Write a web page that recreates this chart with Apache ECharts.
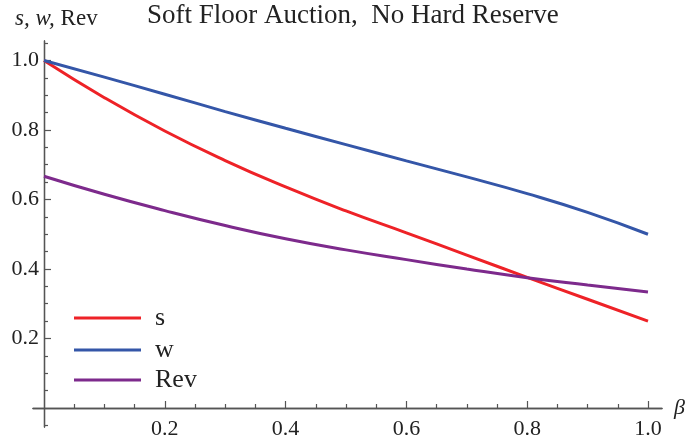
<!DOCTYPE html>
<html>
<head>
<meta charset="utf-8">
<script src="https://cdn.jsdelivr.net/npm/echarts@6/dist/echarts.min.js"></script>
<style>
  html, body { margin: 0; padding: 0; background: #fff; }
  #chart { width: 688px; height: 442px; }
</style>
</head>
<body>
<div id="chart"></div>
<script>
// beta values and the three curves
const beta = [0, 0.1, 0.2, 0.3, 0.4, 0.5, 0.6, 0.7, 0.8, 0.9, 1.0]
const sVals = [1.0, 0.893, 0.797, 0.712, 0.636, 0.567, 0.504, 0.44, 0.376, 0.313, 0.25]
const wVals = [1.0, 0.952, 0.903, 0.853, 0.805, 0.758, 0.711, 0.665, 0.617, 0.563, 0.50]
const revVals = [0.667, 0.615, 0.568, 0.525, 0.487, 0.455, 0.427, 0.400, 0.375, 0.354, 0.334]

const xMajor = [0.2, 0.4, 0.6, 0.8, 1.0]
const xMinor = [0.05, 0.1, 0.15, 0.25, 0.3, 0.35, 0.45, 0.5, 0.55, 0.65, 0.7, 0.75, 0.85, 0.9, 0.95]
const yMajor = [0.2, 0.4, 0.6, 0.8, 1.0]
const yMinor = [-0.05, 0.05, 0.1, 0.15, 0.25, 0.3, 0.35, 0.45, 0.5, 0.55, 0.65, 0.7, 0.75, 0.85, 0.9, 0.95, 1.05]

const names = ['s', 'w', 'Rev']
const colors = ['#ee2227', '#3456a8', '#7d2a8c']

const serif = 'Liberation Serif'
const axisColor = '#555'
const X_MIN = -0.0182, X_MAX = 1.0232
const Y_MIN = -0.0547, Y_MAX = 1.0561

const chart = echarts.init(document.getElementById('chart'))

function pairs(vals) {
  return beta.map((b, i) => [b, vals[i]])
}

function xAxisOf(major) {
  return {
    type: 'value',
    min: X_MIN,
    max: X_MAX,
    position: 'bottom',
    axisLine: { onZero: true, lineStyle: { color: axisColor, width: 1.3 } },
    axisTick: {
      inside: true,
      length: major ? 7 : 4,
      customValues: major ? xMajor : xMinor,
      lineStyle: { color: axisColor, width: 1.2 }
    },
    axisLabel: {
      show: major,
      customValues: xMajor,
      formatter: v => v.toFixed(1),
      fontFamily: serif,
      fontSize: 22,
      color: '#222',
      margin: -9
    },
    splitLine: { show: false },
    name: major ? 'β' : '',
    nameLocation: 'end',
    nameGap: 12,
    nameTextStyle: { fontFamily: serif, fontStyle: 'italic', fontSize: 22, color: '#222' }
  }
}

function yAxisOf(major) {
  return {
    type: 'value',
    min: Y_MIN,
    max: Y_MAX,
    position: 'left',
    axisLine: { onZero: true, lineStyle: { color: axisColor, width: 1.3 } },
    axisTick: {
      inside: true,
      length: major ? 7 : 4,
      customValues: major ? yMajor : yMinor,
      lineStyle: { color: axisColor, width: 1.2 }
    },
    axisLabel: {
      show: major,
      customValues: yMajor,
      formatter: v => v.toFixed(1),
      fontFamily: serif,
      fontSize: 22,
      color: '#222',
      margin: -6
    },
    splitLine: { show: false }
  }
}

const legendRows = [318, 350, 380]

const option = {
  animation: false,
  color: colors,
  title: [
    {
      text: 'Soft Floor Auction,  No Hard Reserve',
      left: 147,
      top: 2,
      padding: 0,
      textStyle: { fontFamily: serif, fontWeight: 'normal', fontSize: 27, color: '#222' }
    },
    {
      text: '{i|s, w,} Rev',
      left: 15,
      top: 7,
      padding: 0,
      textStyle: {
        fontFamily: serif, fontWeight: 'normal', fontSize: 23, color: '#222',
        rich: { i: { fontFamily: serif, fontStyle: 'italic', fontSize: 23, color: '#222' } }
      }
    }
  ],
  legend: names.map((n, i) => ({
    data: [n],
    left: 74,
    top: legendRows[i] - 15,
    padding: 0,
    icon: 'rect',
    itemWidth: 67,
    itemHeight: 3,
    textStyle: { fontFamily: serif, fontSize: 26, color: '#222', lineHeight: 30, padding: [0, 0, 0, 9] }
  })),
  grid: { left: 33, right: 26, top: 41, bottom: 15, outerBoundsMode: 'none' },
  xAxis: [xAxisOf(true), xAxisOf(false)],
  yAxis: [yAxisOf(true), yAxisOf(false)],
  series: [
    { name: 's', type: 'line', data: pairs(sVals), showSymbol: false, smooth: 0.5, lineStyle: { width: 3 } },
    { name: 'w', type: 'line', data: pairs(wVals), showSymbol: false, smooth: 0.5, lineStyle: { width: 3 } },
    { name: 'Rev', type: 'line', data: pairs(revVals), showSymbol: false, smooth: 0.5, lineStyle: { width: 3 } }
  ]
}

chart.setOption(option)
</script>
</body>
</html>
